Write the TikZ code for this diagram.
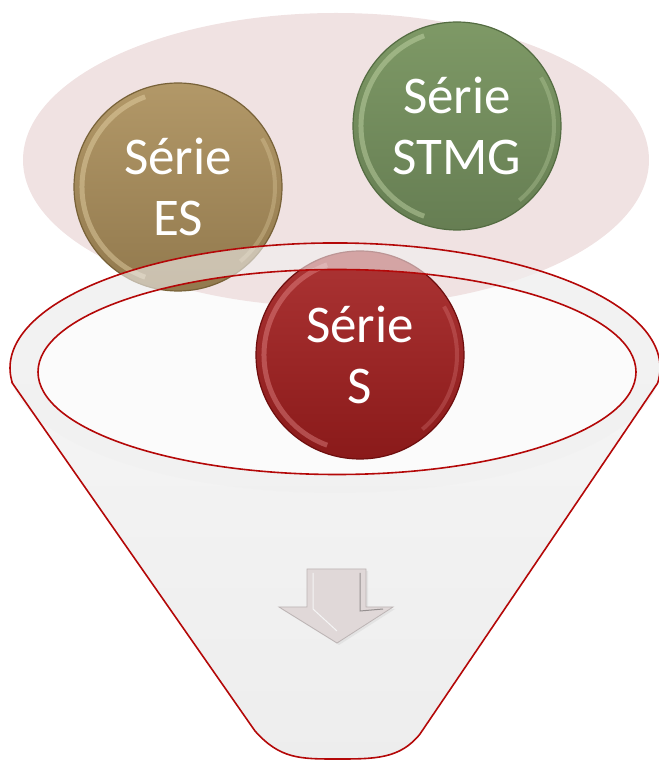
\documentclass[tikz,border=0pt]{standalone}
\usepackage{fontspec}
\setmainfont{Carlito}
\definecolor{pinkbg}{RGB}{240,226,226}
\definecolor{funred}{RGB}{180,8,8}
\definecolor{esbase}{RGB}{166,138,88}
\definecolor{estop}{RGB}{178,152,104}
\definecolor{esedge}{RGB}{120,98,56}
\definecolor{eshl}{RGB}{232,214,170}
\definecolor{stbase}{RGB}{116,143,94}
\definecolor{sttop}{RGB}{126,153,102}
\definecolor{stedge}{RGB}{84,108,66}
\definecolor{sthl}{RGB}{200,218,172}
\definecolor{sbase}{RGB}{150,28,28}
\definecolor{stopc}{RGB}{172,52,52}
\definecolor{sedge}{RGB}{110,14,14}
\definecolor{shl}{RGB}{236,150,150}
\definecolor{arrowfill}{RGB}{224,216,216}
\definecolor{arrowedge}{RGB}{188,180,180}
\begin{document}
\begin{tikzpicture}[x=1pt,y=1pt,
  bubble/.style={circle, minimum size=208pt, inner sep=0pt, align=center,
    text=white, font=\fontsize{53}{61}\selectfont, line width=1.2pt},
  funnelline/.style={draw=funred, line width=1.6pt},
]
\useasboundingbox (0,0) rectangle (659,761);
\clip (0,0) rectangle (659,761);
% funnel body
\fill[top color=gray!6, bottom color=gray!14]
  (12.4,377.8) -- (255,30) .. controls (280,2) and (300,2) .. (337,2)
  .. controls (375,2) and (400,2) .. (420,27) -- (657.6,377.8)
  arc[start angle=-7, end angle=187, x radius=325pt, y radius=125pt] -- cycle;
\fill[white!97!gray] (337,389) ellipse [x radius=299pt, y radius=102.5pt];
% pink background ellipse
\fill[pinkbg] (336,601) ellipse [x radius=313pt, y radius=147pt];
% bubbles
\node[bubble, draw=esedge, top color=estop, bottom color=esbase!88!black,
  path picture={
    \draw[eshl, line width=5pt, opacity=0.45] (path picture bounding box.center) ++(110:96pt) arc[start angle=110, end angle=250, radius=96pt];
    \draw[eshl, line width=4pt, opacity=0.3] (path picture bounding box.center) ++(-50:97pt) arc[start angle=-50, end angle=30, radius=97pt];
  }] (es) at (178,574) {Série\\ES};
\node[bubble, draw=stedge, top color=sttop, bottom color=stbase!88!black,
  path picture={
    \draw[sthl, line width=5pt, opacity=0.45] (path picture bounding box.center) ++(110:96pt) arc[start angle=110, end angle=250, radius=96pt];
    \draw[sthl, line width=4pt, opacity=0.3] (path picture bounding box.center) ++(-50:97pt) arc[start angle=-50, end angle=30, radius=97pt];
  }] (stmg) at (457,635) {Série\\STMG};
\node[bubble, draw=sedge, top color=stopc, bottom color=sbase!92!black,
  path picture={
    \draw[shl, line width=5pt, opacity=0.4] (path picture bounding box.center) ++(110:96pt) arc[start angle=110, end angle=250, radius=96pt];
    \draw[shl, line width=4pt, opacity=0.25] (path picture bounding box.center) ++(-50:97pt) arc[start angle=-50, end angle=30, radius=97pt];
  }] (s) at (360,406) {Série\\S};
% funnel rim band (translucent)
\fill[gray!12, opacity=0.6, even odd rule]
  (335,393) ellipse [x radius=325pt, y radius=125pt]
  (337,389) ellipse [x radius=299pt, y radius=102.5pt];
% funnel outlines
\draw[funnelline]
  (12.4,377.8) -- (255,30) .. controls (280,2) and (300,2) .. (337,2)
  .. controls (375,2) and (400,2) .. (420,27) -- (657.6,377.8)
  arc[start angle=-7, end angle=187, x radius=325pt, y radius=125pt] -- cycle;
\draw[funnelline] (337,389) ellipse [x radius=299pt, y radius=102.5pt];
% down arrow
\fill[gray!40, opacity=0.35] (309,190) -- (368,190) -- (368,152) -- (395,152) -- (339,116) -- (281,152) -- (309,152) -- cycle;
\draw[fill=arrowfill, draw=arrowedge, line width=0.8pt]
  (307,192) -- (366,192) -- (366,154) -- (393,154) -- (337,118) -- (279,154) -- (307,154) -- cycle;
\draw[white!92!gray, line width=1pt] (313,188) -- (313,152) -- (337,130);
\draw[arrowedge!80!black, line width=1pt] (360,188) -- (360,150) -- (383,152);
\end{tikzpicture}
\end{document}
